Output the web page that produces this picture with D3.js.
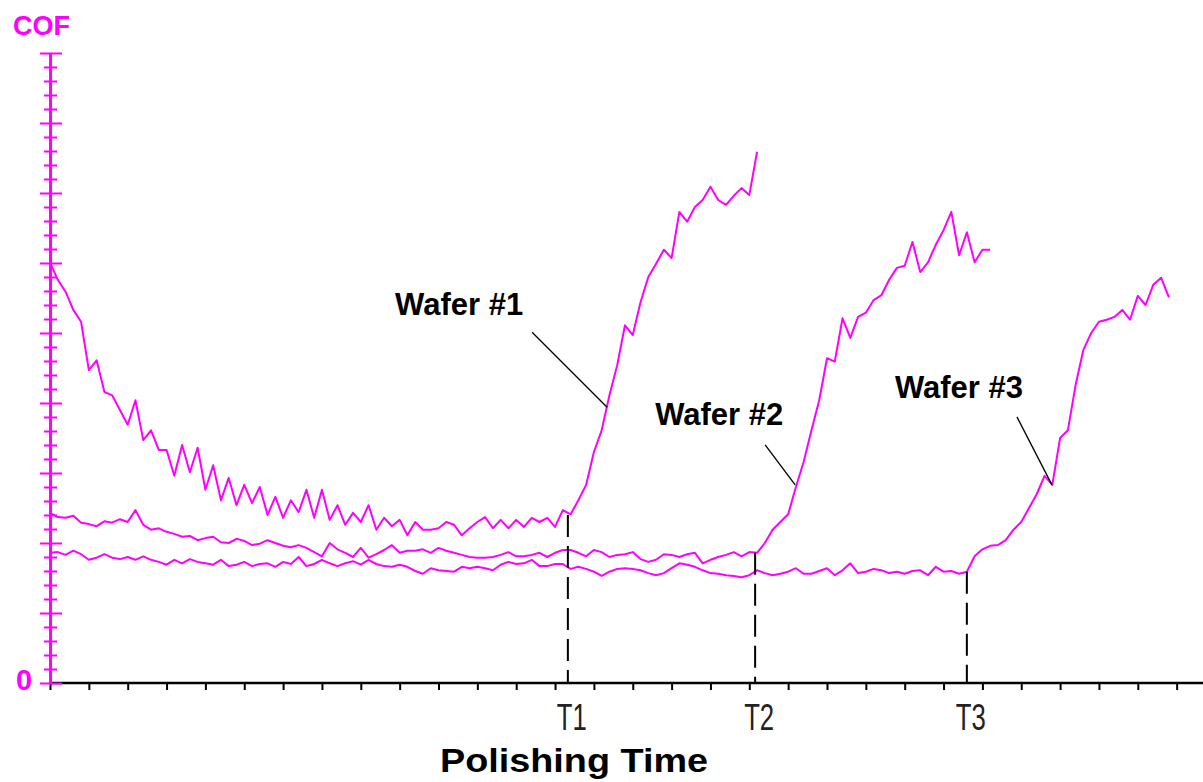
<!DOCTYPE html>
<html lang="en">
<head>
<meta charset="utf-8"/>
<title>COF vs polishing time</title>
<script src="https://cdn.jsdelivr.net/npm/d3@7/dist/d3.min.js"></script>
<style>
  html, body { margin:0; padding:0; background:#fff; overflow:hidden; }
  svg { display:block; }
  .bold { font-family:"Liberation Sans", Arial, sans-serif; font-weight:bold; }
  .plain { font-family:"Liberation Sans", Arial, sans-serif; }
</style>
</head>
<body>
<svg id="chart" width="1203" height="782"></svg>
<script>
// COF sampled every 2 s for each wafer
const DT = 2;

const wafer1 = [
  0.601, 0.576, 0.559, 0.533, 0.516, 0.447, 0.461, 0.416, 0.411, 0.390,
  0.369, 0.404, 0.347, 0.361, 0.333, 0.333, 0.296, 0.340, 0.301, 0.336,
  0.276, 0.311, 0.261, 0.293, 0.254, 0.283, 0.257, 0.280, 0.240, 0.266,
  0.236, 0.261, 0.244, 0.276, 0.236, 0.276, 0.233, 0.254, 0.226, 0.243,
  0.230, 0.254, 0.219, 0.236, 0.224, 0.233, 0.211, 0.230, 0.219, 0.219,
  0.221, 0.230, 0.226, 0.211, 0.221, 0.230, 0.237, 0.221, 0.233, 0.221,
  0.233, 0.223, 0.236, 0.230, 0.236, 0.223, 0.247, 0.241, 0.261, 0.283,
  0.330, 0.361, 0.411, 0.454, 0.511, 0.497, 0.544, 0.580, 0.599, 0.619,
  0.607, 0.673, 0.659, 0.680, 0.690, 0.709, 0.690, 0.683, 0.696, 0.707,
  0.697, 0.759
];

const wafer2 = [
  0.243, 0.237, 0.236, 0.239, 0.229, 0.227, 0.224, 0.231, 0.229, 0.234,
  0.230, 0.247, 0.226, 0.219, 0.221, 0.216, 0.213, 0.209, 0.210, 0.204,
  0.207, 0.209, 0.201, 0.200, 0.206, 0.203, 0.197, 0.199, 0.204, 0.200,
  0.196, 0.194, 0.197, 0.193, 0.187, 0.181, 0.200, 0.191, 0.186, 0.180,
  0.193, 0.179, 0.184, 0.190, 0.197, 0.186, 0.189, 0.189, 0.191, 0.186,
  0.193, 0.189, 0.186, 0.183, 0.180, 0.179, 0.179, 0.180, 0.183, 0.187,
  0.181, 0.181, 0.183, 0.186, 0.180, 0.186, 0.190, 0.190, 0.186, 0.181,
  0.190, 0.187, 0.180, 0.183, 0.184, 0.187, 0.177, 0.173, 0.176, 0.184,
  0.183, 0.180, 0.184, 0.186, 0.171, 0.176, 0.180, 0.183, 0.187, 0.181,
  0.187, 0.186, 0.200, 0.219, 0.230, 0.241, 0.280, 0.316, 0.361, 0.404,
  0.464, 0.459, 0.521, 0.493, 0.523, 0.529, 0.547, 0.554, 0.576, 0.593,
  0.596, 0.630, 0.587, 0.601, 0.626, 0.647, 0.673, 0.611, 0.644, 0.601,
  0.619, 0.619
];

const wafer3 = [
  0.186, 0.187, 0.183, 0.189, 0.184, 0.176, 0.179, 0.184, 0.179, 0.177,
  0.180, 0.176, 0.181, 0.176, 0.173, 0.169, 0.176, 0.171, 0.177, 0.173,
  0.171, 0.169, 0.176, 0.167, 0.169, 0.173, 0.167, 0.170, 0.171, 0.166,
  0.173, 0.170, 0.180, 0.167, 0.170, 0.176, 0.171, 0.167, 0.171, 0.174,
  0.169, 0.176, 0.170, 0.167, 0.166, 0.169, 0.166, 0.160, 0.156, 0.164,
  0.161, 0.160, 0.159, 0.166, 0.164, 0.166, 0.164, 0.161, 0.169, 0.173,
  0.170, 0.171, 0.176, 0.167, 0.167, 0.170, 0.170, 0.163, 0.166, 0.163,
  0.159, 0.153, 0.159, 0.163, 0.164, 0.163, 0.161, 0.157, 0.154, 0.157,
  0.164, 0.171, 0.169, 0.166, 0.161, 0.157, 0.156, 0.154, 0.153, 0.151,
  0.154, 0.161, 0.157, 0.154, 0.156, 0.159, 0.164, 0.156, 0.156, 0.160,
  0.164, 0.154, 0.161, 0.171, 0.157, 0.159, 0.163, 0.161, 0.157, 0.159,
  0.156, 0.160, 0.161, 0.154, 0.166, 0.159, 0.160, 0.156, 0.159, 0.181,
  0.191, 0.196, 0.197, 0.204, 0.219, 0.230, 0.250, 0.270, 0.296, 0.283,
  0.350, 0.361, 0.426, 0.476, 0.500, 0.516, 0.519, 0.523, 0.533, 0.519,
  0.553, 0.540, 0.569, 0.579, 0.551
];

// endpoint times (s) and the COF where the dashed marker starts
const endNames = ["T1", "T2", "T3"];
const endTimes = [133.3, 181.5, 236.0];
const endCof   = [0.240, 0.186, 0.159];

// wafer labels and the point each leader line touches
const waferNames = ["Wafer #1", "Wafer #2", "Wafer #3"];
const pointTimes = [143.4, 191.8, 257.9];
const pointCof   = [0.394, 0.283, 0.283];

const xTicks  = d3.range(0, 300, 10);
const yMajor  = d3.range(0, 10).map(i => i / 10);
const yMinor  = d3.range(0, 46).map(i => i / 50).filter(v => Math.round(v * 50) % 5 !== 0);

const W = 1203, H = 782;
const MAG = "#ff00ff";
const svg = d3.select("#chart");

const x = d3.scaleLinear().domain([0, 300]).range([50, 50 + 300 * 3.885]);
const y = d3.scaleLinear().domain([0, 0.9]).range([683, 53]);

// x axis (black)
const gx = svg.append("g")
  .attr("transform", `translate(0,${y(0)})`)
  .call(d3.axisBottom(x).tickValues(xTicks).tickSize(7).tickSizeOuter(0).tickFormat(""));
gx.select(".domain").remove();
gx.selectAll(".tick line").attr("stroke", "#000").attr("stroke-width", 2);
gx.append("line")
  .attr("x1", x(0)).attr("x2", W)
  .attr("stroke", "#000").attr("stroke-width", 2.5);

// wafer traces
const line = d3.line()
  .x((d, i) => x(i * DT))
  .y(d => y(d));

svg.append("g")
  .selectAll("path")
  .data([wafer3, wafer2, wafer1])
  .join("path")
    .attr("d", line)
    .attr("fill", "none")
    .attr("stroke", MAG)
    .attr("stroke-width", 2)
    .attr("stroke-linejoin", "round");

// dashed endpoint markers
const ends = endNames.map((n, i) => ({ name: n, t: endTimes[i], c: endCof[i] }));
svg.append("g")
  .selectAll("line")
  .data(ends)
  .join("line")
    .attr("x1", d => x(d.t)).attr("x2", d => x(d.t))
    .attr("y1", d => y(d.c)).attr("y2", y(0))
    .attr("stroke", "#000")
    .attr("stroke-width", 2)
    .attr("stroke-dasharray", "22,9");

svg.append("g")
  .selectAll("text")
  .data(ends)
  .join("text")
    .attr("class", "plain")
    .attr("x", d => x(d.t) + 4)
    .attr("y", 730)
    .attr("text-anchor", "middle")
    .attr("font-size", 36)
    .attr("textLength", 30)
    .attr("lengthAdjust", "spacingAndGlyphs")
    .attr("fill", "#222")
    .text(d => d.name);

// y axis (magenta), ticks crossing the axis line
const gy = svg.append("g").attr("transform", `translate(${x(0)},0)`);
gy.append("g").call(d3.axisLeft(y).tickValues(yMajor).tickSize(10).tickSizeOuter(0).tickFormat(""));
gy.append("g").call(d3.axisRight(y).tickValues(yMajor).tickSize(12).tickSizeOuter(0).tickFormat(""));
gy.append("g").call(d3.axisLeft(y).tickValues(yMinor).tickSize(6).tickSizeOuter(0).tickFormat(""));
gy.append("g").call(d3.axisRight(y).tickValues(yMinor).tickSize(7).tickSizeOuter(0).tickFormat(""));
gy.selectAll(".domain").attr("stroke", MAG).attr("stroke-width", 2.5);
gy.selectAll(".tick line").attr("stroke", MAG).attr("stroke-width", 2);

svg.append("text")
  .attr("class", "bold")
  .attr("x", 13).attr("y", 35)
  .attr("font-size", 27)
  .attr("fill", MAG)
  .text("COF");

svg.append("text")
  .attr("class", "bold")
  .attr("x", 16).attr("y", 690)
  .attr("font-size", 29)
  .attr("fill", MAG)
  .text("0");

// axis title
svg.append("text")
  .attr("class", "bold")
  .attr("x", 574).attr("y", 772)
  .attr("text-anchor", "middle")
  .attr("font-size", 34)
  .attr("textLength", 268)
  .attr("lengthAdjust", "spacingAndGlyphs")
  .attr("fill", "#000")
  .text("Polishing Time");

// wafer labels with leader lines (offsets in px from the touched point)
const labelDx = [-212, -140, -157];
const labelDy = [-92, -60, -87];
const leadDx  = [-75, -30, -35];
const leadDy  = [-75, -40, -68];

const notes = waferNames.map((n, i) => ({
  name: n, px: x(pointTimes[i]), py: y(pointCof[i]),
  tx: labelDx[i], ty: labelDy[i], lx: leadDx[i], ly: leadDy[i]
}));

const ng = svg.append("g").selectAll("g").data(notes).join("g");
ng.append("line")
  .attr("x1", d => d.px + d.lx).attr("y1", d => d.py + d.ly)
  .attr("x2", d => d.px).attr("y2", d => d.py)
  .attr("stroke", "#000").attr("stroke-width", 1.3);
ng.append("text")
  .attr("class", "bold")
  .attr("x", d => d.px + d.tx).attr("y", d => d.py + d.ty)
  .attr("font-size", 31)
  .attr("fill", "#000")
  .text(d => d.name);
</script>
</body>
</html>
